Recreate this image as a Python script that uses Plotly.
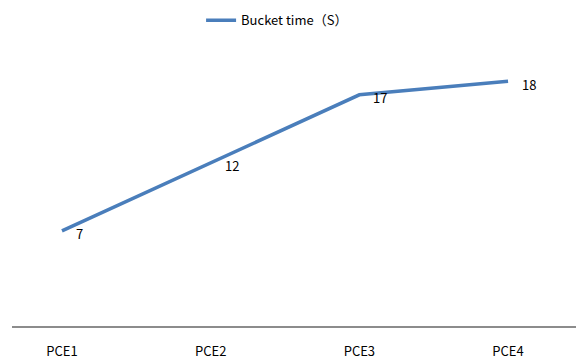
import plotly.graph_objects as go

# Bucket time per PCE stage
categories = ["PCE1", "PCE2", "PCE3", "PCE4"]
bucket_time = [7, 12, 17, 18]
series_name = "Bucket time（S）"

FONT = "Noto Sans CJK SC, DejaVu Sans, sans-serif"
LINE_COLOR = "#4a7ebb"

x_idx = list(range(len(categories)))

fig = go.Figure()
fig.add_trace(go.Scatter(
    x=x_idx,
    y=bucket_time,
    mode="lines",
    name=series_name,
    line=dict(color=LINE_COLOR, width=3.5),
    hoverinfo="skip",
))

# value labels placed just right of each point
for xi, v in zip(x_idx, bucket_time):
    fig.add_annotation(
        x=xi, y=v, text=str(v), showarrow=False,
        xanchor="left", yanchor="middle",
        xshift=12, yshift=-3,
        font=dict(family=FONT, size=13, color="#000000"),
    )

fig.update_layout(
    width=576, height=360,
    margin=dict(l=12, r=0, t=54, b=32),
    paper_bgcolor="white",
    plot_bgcolor="white",
    showlegend=True,
    legend=dict(
        orientation="h",
        x=0.47, xanchor="center",
        y=0.985, yanchor="top",
        yref="container",
        font=dict(family=FONT, size=13, color="#000000"),
    ),
    xaxis=dict(
        range=[-0.336, 3.457],
        tickmode="array",
        tickvals=x_idx,
        ticktext=categories,
        showgrid=False,
        zeroline=False,
        showline=True,
        linecolor="#8c8c8c",
        linewidth=1.5,
        ticks="",
        tickfont=dict(family=FONT, size=13, color="#000000"),
        ticklabelstandoff=13,
        fixedrange=True,
    ),
    yaxis=dict(
        range=[0, 20],
        showgrid=False,
        zeroline=False,
        showline=False,
        showticklabels=False,
        ticks="",
        fixedrange=True,
    ),
)

fig.write_html("out.html")
